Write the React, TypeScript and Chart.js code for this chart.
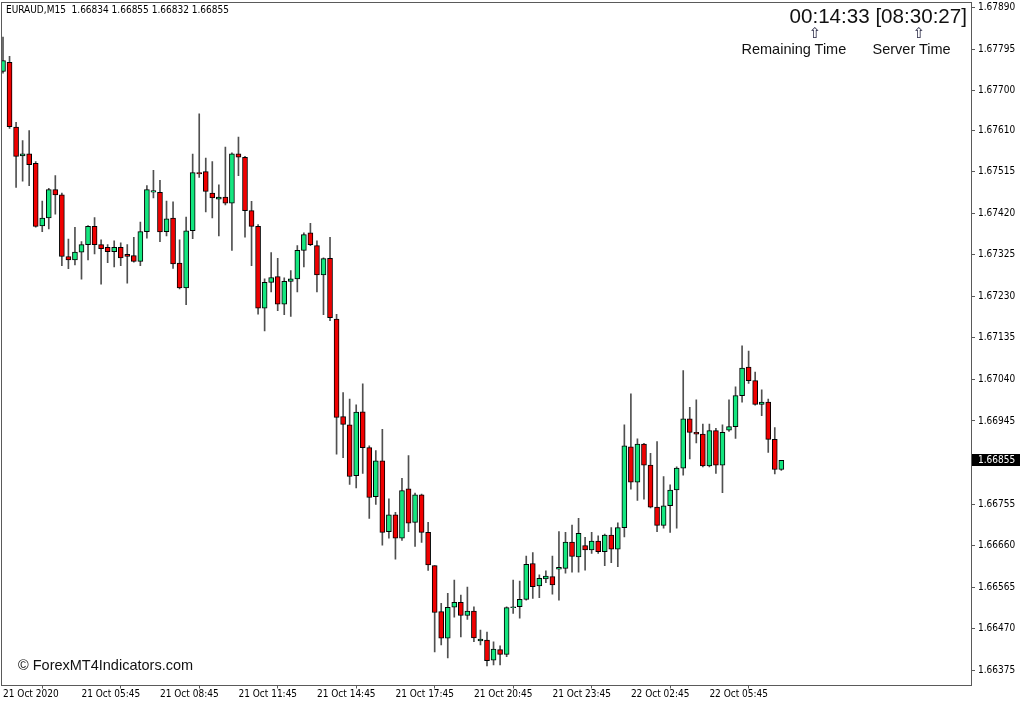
import React, { useEffect, useRef } from "react";
import { Chart, registerables } from "chart.js";

Chart.register(...registerables);

const OPEN = [
  1.67744, 1.67765, 1.67617, 1.67551, 1.67556, 1.67534, 1.67391, 1.67409, 1.67474, 1.67462,
  1.67321, 1.67313, 1.67331, 1.67348, 1.6739, 1.67348, 1.67342, 1.67332, 1.67342, 1.67326,
  1.67323, 1.6731, 1.67378, 1.67468, 1.67468, 1.67378, 1.67409, 1.67306, 1.67249, 1.6738,
  1.67513, 1.67515, 1.67466, 1.67452, 1.67457, 1.67443, 1.67556, 1.67548, 1.67426, 1.6739,
  1.67203, 1.67262, 1.67275, 1.67212, 1.67264, 1.6727, 1.67335, 1.67375, 1.67346, 1.67279,
  1.67317, 1.67178, 1.66955, 1.66936, 1.6682, 1.66966, 1.66884, 1.66772, 1.66854, 1.66692,
  1.6673, 1.66677, 1.6679, 1.66713, 1.66776, 1.6669, 1.66614, 1.66509, 1.66448, 1.66519,
  1.6653, 1.665, 1.6651, 1.66442, 1.66444, 1.66398, 1.66422, 1.66411, 1.66518, 1.6652,
  1.66537, 1.66619, 1.66568, 1.66584, 1.66589, 1.66606, 1.66608, 1.66668, 1.66634, 1.6666,
  1.6665, 1.6667, 1.66646, 1.66684, 1.66652, 1.66701, 1.66886, 1.66805, 1.66892, 1.66844,
  1.66748, 1.66706, 1.66751, 1.66787, 1.66837, 1.6695, 1.66919, 1.66915, 1.66842, 1.66923,
  1.66844, 1.66924, 1.66932, 1.67003, 1.67068, 1.67037, 1.66983, 1.66988, 1.66903, 1.66834,
];

const HIGH = [
  1.67823, 1.67779, 1.67628, 1.67586, 1.67609, 1.67538, 1.67448, 1.67477, 1.67506, 1.67466,
  1.67361, 1.67388, 1.67355, 1.67392, 1.6741, 1.67359, 1.67348, 1.67357, 1.67352, 1.67348,
  1.67365, 1.674, 1.67483, 1.67518, 1.67495, 1.67448, 1.67446, 1.67359, 1.67411, 1.67555,
  1.67647, 1.67546, 1.67538, 1.67485, 1.67571, 1.67558, 1.67594, 1.6755, 1.67447, 1.67394,
  1.6727, 1.6733, 1.67317, 1.67272, 1.67289, 1.67346, 1.67375, 1.67397, 1.67357, 1.67318,
  1.67365, 1.67189, 1.6701, 1.66995, 1.66982, 1.6703, 1.66888, 1.66877, 1.66926, 1.66767,
  1.66736, 1.66814, 1.66866, 1.6678, 1.66778, 1.66713, 1.66614, 1.66528, 1.66551, 1.66581,
  1.66547, 1.66565, 1.6652, 1.66467, 1.66462, 1.6644, 1.66431, 1.6652, 1.66581, 1.66579,
  1.66636, 1.66644, 1.66593, 1.66602, 1.66636, 1.66692, 1.6669, 1.66707, 1.66722, 1.66679,
  1.6669, 1.66682, 1.66686, 1.66701, 1.66712, 1.66936, 1.67007, 1.66904, 1.66894, 1.66871,
  1.66898, 1.66818, 1.66799, 1.6684, 1.6706, 1.66976, 1.66993, 1.66938, 1.66938, 1.66928,
  1.66936, 1.66993, 1.67023, 1.67117, 1.67105, 1.67057, 1.67016, 1.66995, 1.6693, 1.66855,
];

const LOW = [
  1.6774, 1.67614, 1.67479, 1.67493, 1.67483, 1.67388, 1.67378, 1.67384, 1.67418, 1.673,
  1.67293, 1.67302, 1.67269, 1.67313, 1.67327, 1.67258, 1.67307, 1.67297, 1.673, 1.6726,
  1.67308, 1.673, 1.67363, 1.67455, 1.67355, 1.67368, 1.67294, 1.67247, 1.67211, 1.67362,
  1.67502, 1.67423, 1.67409, 1.67368, 1.67439, 1.67335, 1.67506, 1.67365, 1.673, 1.67189,
  1.67151, 1.6724, 1.67197, 1.67188, 1.67184, 1.6724, 1.67297, 1.67346, 1.6724, 1.67188,
  1.67174, 1.66869, 1.66861, 1.668, 1.66792, 1.66825, 1.66722, 1.66754, 1.66661, 1.66677,
  1.66629, 1.66672, 1.66692, 1.66658, 1.66667, 1.66603, 1.66417, 1.66433, 1.66403, 1.66496,
  1.66451, 1.66491, 1.6644, 1.66433, 1.66385, 1.66387, 1.66387, 1.66406, 1.66505, 1.66494,
  1.66535, 1.66539, 1.66541, 1.66575, 1.66549, 1.66535, 1.66597, 1.66599, 1.66599, 1.66604,
  1.66642, 1.66642, 1.66614, 1.66621, 1.66612, 1.6668, 1.66789, 1.66763, 1.66766, 1.66746,
  1.66692, 1.667, 1.6669, 1.667, 1.66821, 1.66858, 1.66895, 1.6684, 1.6684, 1.66825,
  1.66781, 1.66921, 1.66905, 1.66988, 1.67031, 1.66981, 1.66957, 1.66873, 1.66824, 1.66832,
];

const CLOSE = [
  1.67769, 1.67618, 1.6755, 1.67556, 1.67531, 1.6739, 1.67409, 1.67474, 1.67462, 1.67321,
  1.67313, 1.67331, 1.67348, 1.6739, 1.67348, 1.67339, 1.67332, 1.67342, 1.67318, 1.67321,
  1.6731, 1.67378, 1.67474, 1.67472, 1.67377, 1.67407, 1.67304, 1.67249, 1.6738, 1.67513,
  1.6751, 1.6747, 1.67455, 1.67457, 1.67443, 1.67556, 1.67548, 1.67426, 1.6739, 1.67203,
  1.67262, 1.67273, 1.67212, 1.67264, 1.6727, 1.67335, 1.67371, 1.67348, 1.67279, 1.67316,
  1.67181, 1.66953, 1.66937, 1.66818, 1.66965, 1.66884, 1.6677, 1.66854, 1.6669, 1.6673,
  1.66677, 1.66786, 1.66711, 1.66776, 1.6669, 1.66616, 1.66507, 1.66448, 1.66519, 1.6653,
  1.665, 1.6651, 1.66449, 1.66446, 1.66397, 1.66423, 1.66411, 1.66518, 1.6652, 1.66537,
  1.66617, 1.66566, 1.66585, 1.6659, 1.6657, 1.6661, 1.66668, 1.66635, 1.66688, 1.6665,
  1.6667, 1.66646, 1.66684, 1.66652, 1.66701, 1.66888, 1.66805, 1.66892, 1.66844, 1.66748,
  1.66706, 1.66751, 1.66787, 1.66837, 1.6695, 1.66919, 1.66915, 1.66842, 1.66923, 1.66844,
  1.66919, 1.66932, 1.67003, 1.67066, 1.67037, 1.66983, 1.66988, 1.66903, 1.66834, 1.66855,
];

const X_TICK_INDEX = [0, 12, 24, 36, 48, 60, 72, 84, 96, 108];
const X_TICK_LABELS = [
  "21 Oct 2020",
  "21 Oct 05:45",
  "21 Oct 08:45",
  "21 Oct 11:45",
  "21 Oct 14:45",
  "21 Oct 17:45",
  "21 Oct 20:45",
  "21 Oct 23:45",
  "22 Oct 02:45",
  "22 Oct 05:45",
];

const Y_TICKS = [
  1.6789, 1.67795, 1.677, 1.6761, 1.67515, 1.6742, 1.67325, 1.6723, 1.67135, 1.6704,
  1.66945, 1.66755, 1.6666, 1.66565, 1.6647, 1.66375,
];

const CURRENT_PRICE = 1.66855;
const SYMBOL_LINE = "EURAUD,M15  1.66834 1.66855 1.66832 1.66855";
const CLOCK_TEXT = "00:14:33 [08:30:27]";

const UP_COLOR = "#14E67F";
const DOWN_COLOR = "#F00000";
const WICK_COLOR = "#505050";
const FONT = "'DejaVu Sans Condensed', 'Liberation Sans', Arial, sans-serif";
const BIG_FONT = "'Liberation Sans', Arial, sans-serif";

const framePlugin = {
  id: "mtFrame",
  afterDraw(chart: any) {
    const { ctx, chartArea } = chart;
    ctx.save();
    ctx.strokeStyle = "#5a5a5a";
    ctx.lineWidth = 1;
    ctx.strokeRect(
      Math.round(chartArea.left) - 0.5,
      Math.round(chartArea.top) + 0.5,
      Math.round(chartArea.right) - Math.round(chartArea.left) + 1,
      Math.round(chartArea.bottom) - Math.round(chartArea.top) - 1
    );
    const y = chart.scales.y.getPixelForValue(CURRENT_PRICE);
    const x0 = Math.round(chartArea.right) + 1;
    ctx.fillStyle = "#000";
    ctx.fillRect(x0, Math.round(y) - 6, 48, 12);
    ctx.fillStyle = "#fff";
    ctx.font = `10px ${FONT}`;
    ctx.textBaseline = "middle";
    ctx.textAlign = "left";
    ctx.fillText(CURRENT_PRICE.toFixed(5), x0 + 6, Math.round(y));
    ctx.restore();
  },
};

export default function App() {
  const ref = useRef<HTMLCanvasElement | null>(null);

  useEffect(() => {
    if (!ref.current) return;
    const bodies = OPEN.map((o, i) => ({ x: i, y: [o, CLOSE[i]] }));
    const wicks = OPEN.map((_, i) => ({ x: i, y: [LOW[i], HIGH[i]] }));
    const colors = OPEN.map((o, i) => (CLOSE[i] >= o ? UP_COLOR : DOWN_COLOR));

    const chart = new Chart(ref.current, {
      type: "bar",
      data: {
        datasets: [
          {
            label: "body",
            data: bodies as any,
            backgroundColor: colors,
            borderColor: "#000",
            borderWidth: 1,
            borderSkipped: false,
            barThickness: 5,
            grouped: false,
          } as any,
          {
            label: "wick",
            data: wicks as any,
            backgroundColor: WICK_COLOR,
            borderWidth: 0,
            barThickness: 1,
            grouped: false,
          } as any,
        ],
      },
      options: {
        responsive: false,
        animation: false,
        devicePixelRatio: 1,
        layout: { padding: { top: 2, left: 2, right: 0, bottom: 0 } },
        plugins: {
          legend: { display: false },
          tooltip: { enabled: false },
          title: { display: false },
        },
        scales: {
          x: {
            type: "linear",
            min: -0.153,
            max: 148.0,
            offset: false,
            border: { display: false },
            grid: {
              display: true,
              drawOnChartArea: false,
              drawTicks: true,
              tickLength: 3,
              color: "#5a5a5a",
            },
            afterBuildTicks: (axis: any) => {
              axis.ticks = X_TICK_INDEX.map((v) => ({ value: v }));
            },
            afterFit: (axis: any) => {
              axis.height = 19.5;
              axis.paddingLeft = 0;
              axis.paddingRight = 0;
            },
            ticks: {
              autoSkip: false,
              maxRotation: 0,
              minRotation: 0,
              align: "start",
              padding: 0,
              color: "#000",
              font: { family: FONT, size: 10 },
              callback: (v: any) => {
                const k = X_TICK_INDEX.indexOf(Number(v));
                return k >= 0 ? X_TICK_LABELS[k] : "";
              },
            },
          },
          y: {
            type: "linear",
            position: "right",
            min: 1.6634,
            max: 1.67903,
            border: { display: false },
            grid: {
              display: true,
              drawOnChartArea: false,
              drawTicks: true,
              tickLength: 4,
              color: "#5a5a5a",
            },
            afterBuildTicks: (axis: any) => {
              axis.ticks = Y_TICKS.map((v) => ({ value: v }));
            },
            afterFit: (axis: any) => {
              axis.width = 53;
              axis.paddingTop = 0;
              axis.paddingBottom = 0;
            },
            ticks: {
              padding: 3,
              color: "#000",
              font: { family: FONT, size: 10 },
              callback: (v: any) => Number(v).toFixed(5),
            },
          },
        },
      } as any,
      plugins: [framePlugin],
    });
    return () => chart.destroy();
  }, []);

  const base: React.CSSProperties = {
    position: "absolute",
    whiteSpace: "pre",
    fontFamily: BIG_FONT,
    lineHeight: 1,
    color: "#000",
    margin: 0,
  };

  const arrow: React.CSSProperties = {
    ...base,
    top: 26,
    width: 16,
    textAlign: "center",
    fontSize: 15,
    fontFamily: "'DejaVu Sans', sans-serif",
    color: "#1c1c3a",
  };

  return (
    <div
      style={{
        position: "fixed",
        left: 0,
        top: 0,
        width: 1024,
        height: 705,
        background: "#fff",
        overflow: "hidden",
      }}
    >
      <canvas ref={ref} width={1024} height={705} style={{ display: "block" }} />
      <div style={{ ...base, left: 6, top: 4.5, fontSize: 10, fontFamily: FONT }}>{SYMBOL_LINE}</div>
      <div style={{ ...base, right: 1024 - 967, top: 6, fontSize: 20.6, color: "#111" }}>
        {CLOCK_TEXT}
      </div>
      <div style={{ ...arrow, left: 807 }}>{"⇧"}</div>
      <div style={{ ...arrow, left: 911 }}>{"⇧"}</div>
      <div style={{ ...base, left: 741.5, top: 41.5, fontSize: 14.5, color: "#111" }}>
        Remaining Time
      </div>
      <div style={{ ...base, left: 872.5, top: 41.5, fontSize: 14.5, color: "#111" }}>
        Server Time
      </div>
      <div style={{ ...base, left: 18, top: 657.5, fontSize: 14.5, color: "#111" }}>
        © ForexMT4Indicators.com
      </div>
    </div>
  );
}
